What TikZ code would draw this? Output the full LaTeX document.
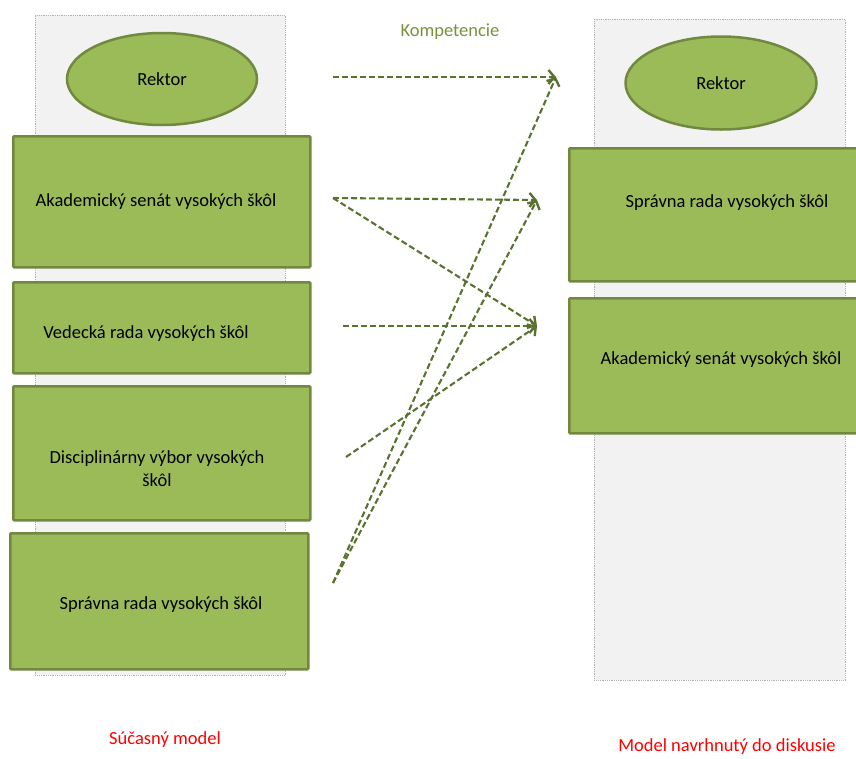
\documentclass[tikz,border=0pt]{standalone}
\usepackage{fontspec}
\setmainfont{Carlito}
\usetikzlibrary{positioning,shapes.geometric,arrows.meta}
\definecolor{ramec}{HTML}{F2F2F2}
\definecolor{zelena}{HTML}{9BBB59}
\definecolor{okraj}{HTML}{71893F}
\definecolor{sipka}{HTML}{5A722F}
\definecolor{kompet}{HTML}{76923C}
\tikzstyle{panel} = [draw=gray!60, densely dotted, fill=ramec, line width=0.8pt, anchor=north west]
\tikzstyle{organ} = [draw=okraj, fill=zelena, line width=2.5pt, rounded corners=1pt, anchor=north west]
\tikzstyle{rektor} = [ellipse, draw=okraj, fill=zelena, line width=2.5pt]
\tikzstyle{komp} = [draw=sipka, dash pattern=on 6pt off 3pt, line width=2.1pt, -{Straight Barb[length=6pt,width=14pt,line width=2.4pt]}]

\begin{document}
\begin{tikzpicture}[x=1pt, y=-1pt, font=\fontsize{18.5}{23}\selectfont]
    \useasboundingbox (0,0) rectangle (856,758);
    % panely
    \node[panel, minimum width=250pt, minimum height=660pt] (lavy) at (35,15) {};
    \node[panel, minimum width=251pt, minimum height=661pt] (pravy) at (594,19) {};
    % sucasny model
    \node[rektor, minimum width=190pt, minimum height=92pt] (rek1) at (162,79) {Rektor};
    \node[organ, minimum width=297pt, minimum height=131pt] (aks1) at (12,135) {};
    \node[organ, minimum width=297pt, minimum height=91pt] (vr) at (12,281) {};
    \node[organ, minimum width=297pt, minimum height=134pt] (dv) at (12,385) {};
    \node[organ, minimum width=298pt, minimum height=136pt] (sr1) at (9,532) {};
    \node (aks1t) at (156,202) {Akademický senát vysokých škôl};
    \node (vrt) at (146,334) {Vedecká rada vysokých škôl};
    \node[align=center] (dvt) at (157,469) {Disciplinárny výbor vysokých\\škôl};
    \node (sr1t) at (161,605) {Správna rada vysokých škôl};
    % navrhnuty model
    \node[rektor, minimum width=191pt, minimum height=93pt] (rek2) at (721,83) {Rektor};
    \node[organ, minimum width=300pt, minimum height=133pt] (sr2) at (568,147) {};
    \node[organ, minimum width=300pt, minimum height=135pt] (aks2) at (568,297) {};
    \node (sr2t) at (727,203) {Správna rada vysokých škôl};
    \node (aks2t) at (721,360) {Akademický senát vysokých škôl};
    % popisy
    \node[text=kompet] (komp) at (450,32) {Kompetencie};
    \node[text=red] (sucasny) at (165,740) {Súčasný model};
    \node[text=red] (navrh) at (727,747) {Model navrhnutý do diskusie};
    % kompetencie
    \coordinate (z1) at (333,77);
    \coordinate (z2) at (333,198);
    \coordinate (z3) at (343,326);
    \coordinate (z4) at (346,457);
    \coordinate (z5) at (333,583);
    \coordinate (k1) at (556,77);
    \coordinate (k2) at (537,200);
    \coordinate (k3) at (537,326);
    \draw[komp] (z1) -- (k1);
    \draw[komp] (z2) -- (k2);
    \draw[komp] (z2) -- (k3);
    \draw[komp] (z3) -- (k3);
    \draw[komp] (z4) -- (k3);
    \draw[komp] (z5) -- (k1);
    \draw[komp] (z5) -- (k2);
\end{tikzpicture}
\end{document}
